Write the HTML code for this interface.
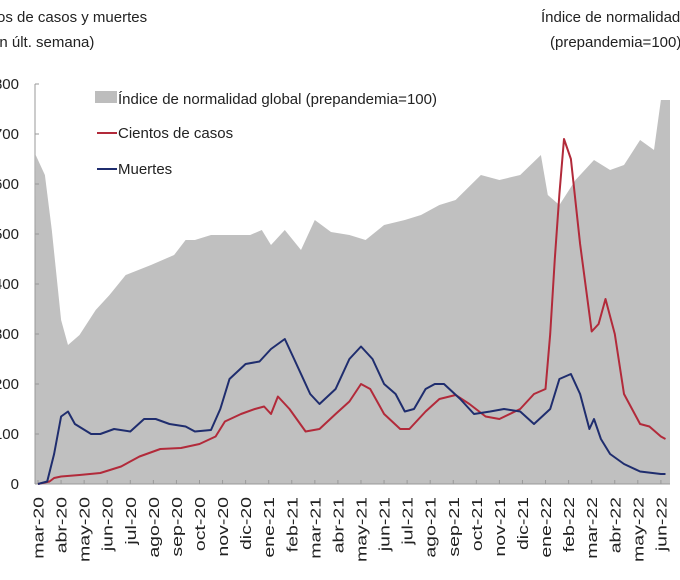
<!DOCTYPE html>
<html><head><meta charset="utf-8"><style>
html,body{margin:0;padding:0;background:#fff;overflow:hidden}
svg{display:block;font-family:"Liberation Sans",sans-serif}
</style></head><body>
<svg id="chart" width="680" height="580" viewBox="0 0 680 580">
<text x="-38" y="22" font-size="15" fill="#222">Cientos de casos y muertes</text>
<text x="-14" y="47" font-size="15" fill="#222">(en últ. semana)</text>
<text x="541" y="22" font-size="15" fill="#222">Índice de normalidad global</text>
<text x="550" y="47" font-size="15" fill="#222">(prepandemia=100)</text>
<g id="area"></g>
<g id="yaxis"></g>
<g id="xaxis"></g>
<g id="lines"></g>
<g>
 <g><rect x="95" y="91" width="22" height="12" fill="#bdbdbd"/><text x="118" y="104" font-size="15" fill="#222">Índice de normalidad global (prepandemia=100)</text></g>
 <g><line x1="97" y1="133" x2="117" y2="133" stroke="#b22a3a" stroke-width="2"/><text x="118" y="138" font-size="15" fill="#222">Cientos de casos</text></g>
 <g><line x1="97" y1="169" x2="117" y2="169" stroke="#1f2d6e" stroke-width="2"/><text x="118" y="174" font-size="15" fill="#222">Muertes</text></g>
</g>
</svg>
<script>
const monthLabels=["mar-20","abr-20","may-20","jun-20","jul-20","ago-20","sep-20","oct-20","nov-20","dic-20","ene-21","feb-21","mar-21","abr-21","may-21","jun-21","jul-21","ago-21","sep-21","oct-21","nov-21","dic-21","ene-22","feb-22","mar-22","abr-22","may-22","jun-22"];
const leftTicks=[0,100,200,300,400,500,600,700,800];
const casesMonths=[0,0.5,0.7,1.0,1.8,2.7,3.6,4.4,5.3,6.2,7.0,7.7,8.1,8.8,9.4,9.8,10.1,10.4,10.9,11.6,12.2,12.9,13.5,14.0,14.4,15.0,15.7,16.1,16.8,17.4,18.1,18.7,19.4,20.0,20.9,21.5,22.0,22.2,22.4,22.6,22.8,23.1,23.5,24.0,24.3,24.6,25.0,25.4,26.1,26.5,27.0,27.2];
const casesValues=[0,5,12,15,18,22,35,55,70,72,80,95,125,140,150,155,140,175,150,105,110,140,165,200,190,140,110,110,145,170,178,160,135,130,150,180,190,300,450,580,690,650,480,305,320,370,300,180,120,115,95,90];
const deathsMonths=[0,0.4,0.7,1.0,1.3,1.6,2.3,2.7,3.3,4.0,4.6,5.1,5.7,6.4,6.8,7.5,7.9,8.3,9.0,9.6,10.1,10.7,11.1,11.8,12.2,12.9,13.5,14.0,14.5,15.0,15.5,15.9,16.3,16.8,17.2,17.6,18.3,18.9,19.6,20.2,20.9,21.5,22.2,22.6,23.1,23.5,23.9,24.1,24.4,24.8,25.4,26.1,27.0,27.2];
const deathsValues=[0,5,60,135,145,120,100,100,110,105,130,130,120,115,105,108,150,210,240,245,270,290,250,180,160,190,250,275,250,200,180,145,150,190,200,200,170,140,145,150,145,120,150,210,220,180,110,130,90,60,40,25,20,20];
const indexMonths=[-0.1,0.3,0.6,1.0,1.3,1.8,2.5,3.1,3.8,4.9,5.9,6.4,6.8,7.5,8.3,9.2,9.7,10.1,10.7,11.4,12.0,12.7,13.5,14.2,15.0,15.9,16.6,17.4,18.1,19.2,20.0,20.9,21.8,22.1,22.6,23.3,24.1,24.8,25.4,26.1,26.7,27.0,27.3];
const indexValues=[98.7,92.7,76.2,49.2,41.7,44.7,52.2,56.7,62.7,65.7,68.7,73.2,73.2,74.7,74.7,74.7,76.2,71.7,76.2,70.2,79.2,75.6,74.7,73.2,77.7,79.2,80.7,83.7,85.2,92.7,91.2,92.7,98.7,86.7,83.7,91.2,97.2,94.2,95.7,103.2,100.2,115.2,115.2];

const NS="http://www.w3.org/2000/svg";
const X0=38,DX=23.07,Y0=484,PLEFT=35,PRIGHT=670;
const xs=m=>X0+m*DX;
const yl=v=>Y0-v*0.5;
const yr=v=>Y0-v/120*400;
function mk(tag,attrs,parent){const e=document.createElementNS(NS,tag);for(const k in attrs)e.setAttribute(k,attrs[k]);parent.appendChild(e);return e;}

const area=document.getElementById('area');
let d=`M${PLEFT},${Y0}`;
indexMonths.forEach((m,i)=>{d+=` L${Math.max(PLEFT,Math.min(PRIGHT,xs(m))).toFixed(1)},${yr(indexValues[i]).toFixed(1)}`;});
d+=` L${PRIGHT},${yr(indexValues[indexValues.length-1]).toFixed(1)} L${PRIGHT},${Y0} Z`;
const ap=mk('path',{d:d,fill:'#c0c0c0'},area);



const ya=document.getElementById('yaxis');
mk('line',{x1:PLEFT,y1:yl(800),x2:PLEFT,y2:Y0,stroke:'#999','stroke-width':1},ya);
leftTicks.forEach(t=>{
 mk('line',{x1:PLEFT,y1:yl(t),x2:PLEFT+4,y2:yl(t),stroke:'#999'},ya);
 const tx=mk('text',{x:19,y:yl(t)+5,'font-size':15,'text-anchor':'end',fill:'#222'},ya);
 tx.textContent=String(t);
 
 
});

const xa=document.getElementById('xaxis');
mk('line',{x1:PLEFT,y1:Y0,x2:PRIGHT,y2:Y0,stroke:'#999'},xa);
monthLabels.forEach((l,i)=>{
 const x=xs(i);
 mk('line',{x1:x,y1:Y0,x2:x,y2:Y0-4,stroke:'#999'},xa);
 const tx=mk('text',{x:0,y:0,'font-size':15,'text-anchor':'end',fill:'#222',transform:`translate(${x+5.5},${Y0+13}) rotate(-90) scale(1.3,1)`},xa);
 tx.textContent=l;
 
 
});

const lg=document.getElementById('lines');
function line(ms,vs){return ms.map((m,i)=>`${i?'L':'M'}${xs(m).toFixed(1)},${yl(vs[i]).toFixed(1)}`).join(' ');}
const lc=mk('path',{d:line(casesMonths,casesValues),fill:'none',stroke:'#b22a3a','stroke-width':2,'stroke-linejoin':'round'},lg);


const ld=mk('path',{d:line(deathsMonths,deathsValues),fill:'none',stroke:'#1f2d6e','stroke-width':2,'stroke-linejoin':'round'},lg);


</script>
</body></html>
